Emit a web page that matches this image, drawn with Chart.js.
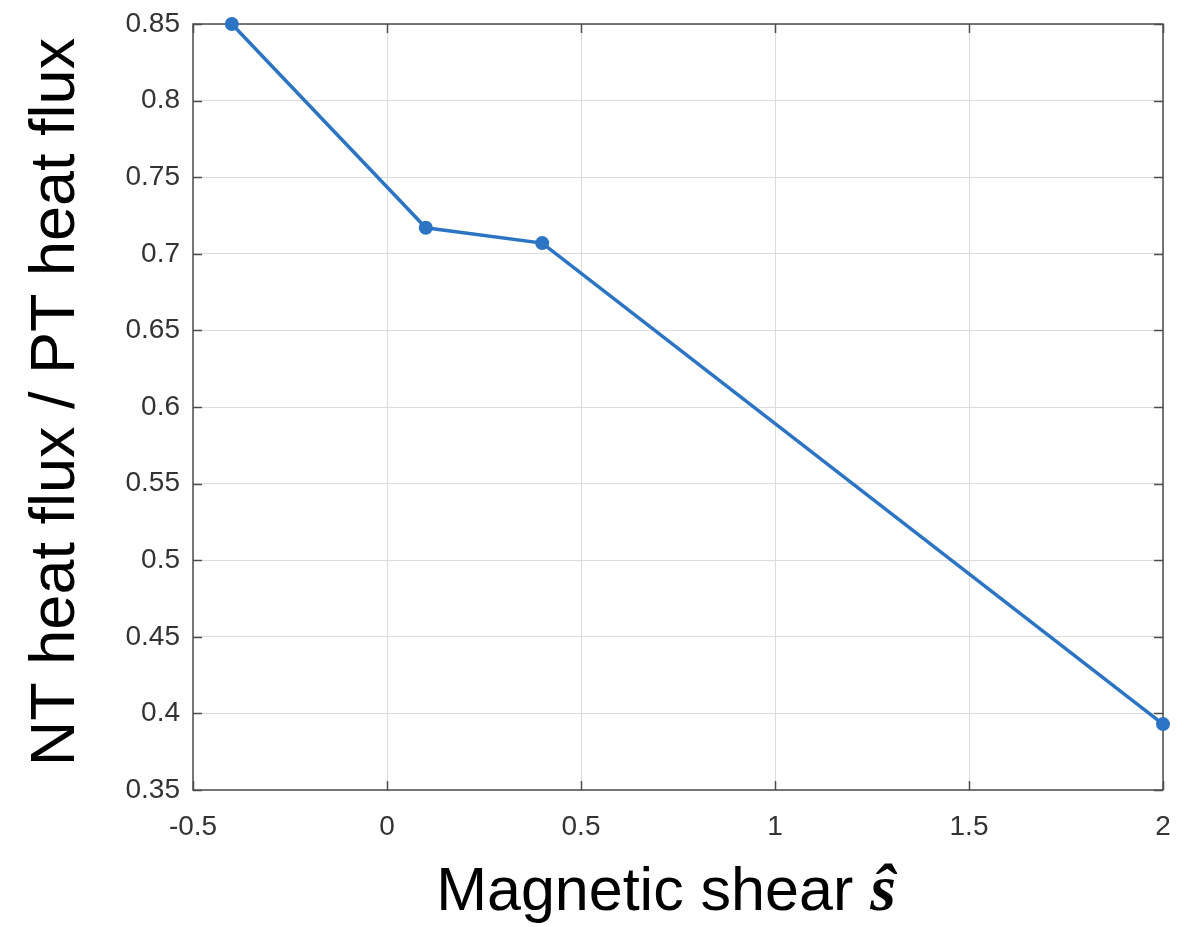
<!DOCTYPE html>
<html>
<head>
<meta charset="utf-8">
<script src="https://cdn.jsdelivr.net/npm/chart.js@4/dist/chart.umd.min.js"></script>
<style>
    html, body { margin: 0; padding: 0; background: #ffffff; }
    #chart { display: block; }
</style>
</head>
<body>
<canvas id="chart" width="1189" height="927"></canvas>
<script>
// Data
const shearValues = [-0.4, 0.1, 0.4, 2];
const fluxRatio = [0.85, 0.717, 0.707, 0.393];

// Axis ticks
const xTicks = [-0.5, 0, 0.5, 1, 1.5, 2];
const yTicks = [0.35, 0.4, 0.45, 0.5, 0.55, 0.6, 0.65, 0.7, 0.75, 0.8, 0.85];

// Titles
const yTitle = 'NT heat flux / PT heat flux';
const xTitleText = 'Magnetic shear ';
const xTitleSymbol = 'ŝ';

const SANS = '"Liberation Sans", Arial, Helvetica, sans-serif';
const AXIS_COLOR = '#4d4d4d';
const LINE_COLOR = '#2c74c4';

// Draws the full box with inward ticks on all sides (MATLAB style)
const boxPlugin = {
    id: 'boxPlugin',
    beforeDatasetsDraw(chart) {
        const { ctx, chartArea: a, scales } = chart;
        const tickLen = 9;
        ctx.save();
        ctx.strokeStyle = AXIS_COLOR;
        ctx.lineWidth = 1.5;
        ctx.beginPath();
        xTicks.forEach(v => {
            const px = Math.round(scales.x.getPixelForValue(v)) + 0.5;
            ctx.moveTo(px, a.bottom); ctx.lineTo(px, a.bottom - tickLen);
            ctx.moveTo(px, a.top); ctx.lineTo(px, a.top + tickLen);
        });
        yTicks.forEach(v => {
            const py = Math.round(scales.y.getPixelForValue(v)) + 0.5;
            ctx.moveTo(a.left, py); ctx.lineTo(a.left + tickLen, py);
            ctx.moveTo(a.right, py); ctx.lineTo(a.right - tickLen, py);
        });
        ctx.stroke();
        ctx.strokeRect(a.left, a.top, a.right - a.left, a.bottom - a.top);
        ctx.restore();
    },
    afterDraw(chart) {
        const { ctx } = chart;
        ctx.save();
        ctx.fillStyle = '#000000';

        // y axis title, rotated
        ctx.font = '63px ' + SANS;
        ctx.translate(74, 402);
        ctx.rotate(-Math.PI / 2);
        ctx.textAlign = 'center';
        ctx.textBaseline = 'alphabetic';
        ctx.fillText(yTitle, 0, 0);
        ctx.setTransform(1, 0, 0, 1, 0, 0);

        // x axis title with italic hat-s
        const sansFont = '61px ' + SANS;
        const symFont = 'italic bold 66px "Liberation Serif", "Times New Roman", serif';
        ctx.font = sansFont;
        const w1 = ctx.measureText(xTitleText).width;
        ctx.font = symFont;
        const w2 = ctx.measureText(xTitleSymbol).width;
        const start = 666 - (w1 + w2) / 2;
        ctx.textAlign = 'left';
        ctx.font = sansFont;
        ctx.fillText(xTitleText, start, 910);
        ctx.font = symFont;
        ctx.fillText(xTitleSymbol, start + w1, 910);
        ctx.restore();
    }
};

const tickFont = { family: SANS, size: 28 };

new Chart(document.getElementById('chart').getContext('2d'), {
    type: 'line',
    data: {
        datasets: [{
            data: shearValues.map((x, i) => ({ x: x, y: fluxRatio[i] })),
            borderColor: LINE_COLOR,
            backgroundColor: LINE_COLOR,
            borderWidth: 3.5,
            pointRadius: 7,
            pointBorderWidth: 0,
            tension: 0,
            clip: false
        }]
    },
    options: {
        responsive: false,
        devicePixelRatio: 1,
        animation: false,
        layout: { autoPadding: false, padding: { top: 24, right: 26, left: 0, bottom: 0 } },
        plugins: {
            legend: { display: false },
            tooltip: { enabled: false }
        },
        scales: {
            x: {
                type: 'linear',
                min: -0.5,
                max: 2,
                afterBuildTicks: scale => { scale.ticks = xTicks.map(v => ({ value: v })); },
                afterFit: scale => {
                    scale.height = 137;
                    scale.paddingLeft = 0;
                    scale.paddingRight = 0;
                },
                grid: { color: '#dcdcdc', lineWidth: 1, drawTicks: false },
                border: { display: false },
                ticks: {
                    color: '#333333',
                    font: tickFont,
                    padding: 20,
                    maxRotation: 0,
                    callback: v => String(v)
                }
            },
            y: {
                type: 'linear',
                min: 0.35,
                max: 0.85,
                afterBuildTicks: scale => { scale.ticks = yTicks.map(v => ({ value: v })); },
                afterFit: scale => {
                    scale.width = 193;
                    scale.paddingTop = 0;
                    scale.paddingBottom = 0;
                },
                grid: { color: '#dcdcdc', lineWidth: 1, drawTicks: false },
                border: { display: false },
                ticks: {
                    color: '#333333',
                    font: tickFont,
                    padding: 13,
                    callback: v => String(v)
                }
            }
        }
    },
    plugins: [boxPlugin]
});
</script>
</body>
</html>
